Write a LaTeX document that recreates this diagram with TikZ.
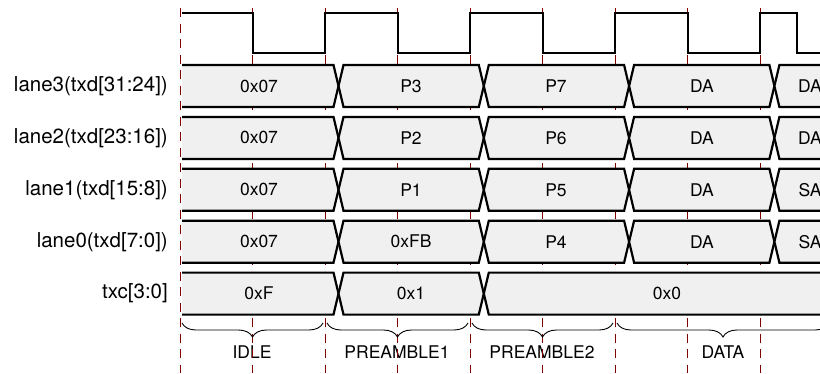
\documentclass[tikz,border=0pt]{standalone}
\usepackage{fontspec}
\setmainfont{TeX Gyre Heros}
\usetikzlibrary{decorations.pathreplacing}
\begin{document}
\begin{tikzpicture}[x=1pt,y=-1pt,
    sig/.style={font=\fontsize{20.5}{24}\selectfont,anchor=east,inner sep=0pt},
    val/.style={font=\fontsize{17.5}{21}\selectfont,inner sep=0pt},
    bus/.style={line width=2.2pt,line join=miter},
    clk/.style={line width=2pt,line join=miter},
    fase/.style={decorate,decoration={brace,mirror,amplitude=14pt},line width=0.9pt}]
    %colores
    \colorlet{grid}{red!50!black}
    \colorlet{busfill}{black!6}

    \useasboundingbox (0,0) rectangle (820,373);
    \clip (0,0) rectangle (820,373);

    % Fases, etiquetas
    \node[val] (idle) at (252,352) {IDLE};
    \node[val] (pre1) at (397,352) {PREAMBLE1};
    \node[val] (pre2) at (542,352) {PREAMBLE2};
    \node[val] (data) at (723,352) {DATA};

    % Rejilla
    \foreach \k in {0,...,8}
    \draw[grid,dash pattern=on 9pt off 6.5pt] (180+72.5*\k,8) -- (180+72.5*\k,373);

    % Buses lane3..lane0
    \foreach \r/\nom/\va/\vb/\vc/\vd/\ve in {0/lane3(txd[31:24])/0x07/P3/P7/DA/DA,
            1/lane2(txd[23:16])/0x07/P2/P6/DA/DA,
            2/lane1(txd[15:8])/0x07/P1/P5/DA/SA,
            3/lane0(txd[7:0])/0x07/0xFB/P4/DA/SA}{
        \pgfmathsetmacro\T{65+51.9*\r}
        \pgfmathsetmacro\M{\T+21}
        \pgfmathsetmacro\Bt{\T+42}
        \fill[busfill] (182,\T) -- (333.5,\T) -- (338.5,\M) -- (333.5,\Bt) -- (182,\Bt) -- cycle;
        \draw[bus] (182,\T) -- (333.5,\T) -- (338.5,\M) -- (333.5,\Bt) -- (182,\Bt);
        \foreach \xa/\xb in {338.5/483.8,483.8/629.1,629.1/774.4,774.4/935}
        \filldraw[bus,fill=busfill] (\xa,\M) -- (\xa+5,\T) -- (\xb-5,\T) -- (\xb,\M) -- (\xb-5,\Bt) -- (\xa+5,\Bt) -- cycle;
        \node[sig] (lane\r) at (168,\M) {\nom};
        \node[val] (v\r a) at (259,\M) {\va};
        \node[val] (v\r b) at (411,\M) {\vb};
        \node[val] (v\r c) at (556,\M) {\vc};
        \node[val] (v\r d) at (702,\M) {\vd};
        \node[val] (v\r e) at (810,\M) {\ve};
    }

    % txc
    \fill[busfill] (182,272.6) -- (333.5,272.6) -- (338.5,293.6) -- (333.5,314.6) -- (182,314.6) -- cycle;
    \draw[bus] (182,272.6) -- (333.5,272.6) -- (338.5,293.6) -- (333.5,314.6) -- (182,314.6);
    \foreach \xa/\xb in {338.5/483.8,483.8/935}
    \filldraw[bus,fill=busfill] (\xa,293.6) -- (\xa+5,272.6) -- (\xb-5,272.6) -- (\xb,293.6) -- (\xb-5,314.6) -- (\xa+5,314.6) -- cycle;
    \node[sig] (txc) at (168,293.6) {txc[3:0]};
    \node[val] (c0) at (259,293.6) {0xF};
    \node[val] (c1) at (411,293.6) {0x1};
    \node[val] (c2) at (667,293.6) {0x0};

    % Reloj
    \draw[clk] (182,13) \foreach \k in {0,...,3} { -- (252.5+145*\k,13) -- (252.5+145*\k,53)
        -- (325+145*\k,53) -- (325+145*\k,13) } -- (797,13) -- (797,53) -- (830,53);

    % Fases, llaves
    \draw[fase] (182,323) -- (323,323);
    \draw[fase] (327,323) -- (468,323);
    \draw[fase] (472,323) -- (613,323);
    \draw[fase] (617,323) -- (829,323);
\end{tikzpicture}
\end{document}
